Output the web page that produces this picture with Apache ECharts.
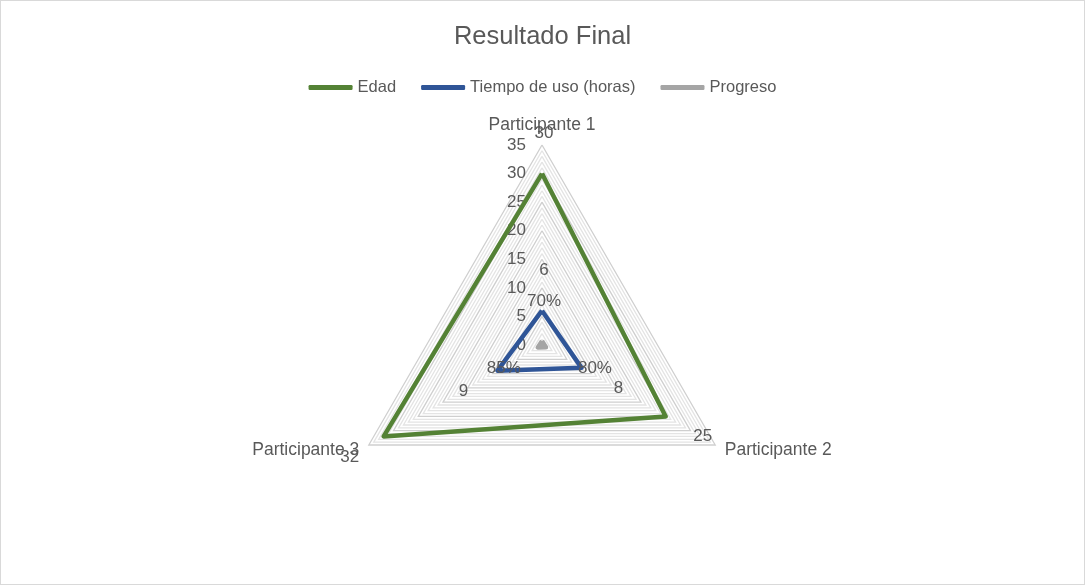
<!DOCTYPE html>
<html>
<head>
<meta charset="utf-8">
<script src="https://cdn.jsdelivr.net/npm/echarts@6/dist/echarts.min.js"></script>
<style>
  html, body { margin: 0; padding: 0; background: #fff; }
  #chart { width: 1085px; height: 585px; box-sizing: border-box; border: 1px solid #d9d9d9; }
</style>
</head>
<body>
<div id="chart"></div>
<script>
// ---- data ----
const participants = ['Participante 1', 'Participante 2', 'Participante 3'];
const seriesNames = ['Edad', 'Tiempo de uso (horas)', 'Progreso'];
const edad = [30, 25, 32];
const tiempo = [6, 8, 9];
const progreso = [0.70, 0.80, 0.85];
const axisMin = 0, axisMax = 35, axisStep = 5;

// ---- styles ----
const FONT = 'Liberation Sans';
const TXT = '#595959';
const colors = ['#548235', '#2F5597', '#A5A5A5'];
const CENTER = [541, 344], RADIUS = 200;
// label offsets per axis (Excel-like placement)
const labelOffsets = [
  [[2, -40], [37, 20], [-34, 21]],
  [[2, -40], [37, 20], [-34, 21]],
  [[2, -40], [49, 21], [-34, 21]]
];

// ECharts radar runs counter-clockwise; reorder so participants run clockwise
const order = [0, 2, 1];
const reorder = arr => order.map(i => arr[i]);

const allValues = [edad, tiempo, progreso];
const fmt = [v => String(v), v => String(v), v => Math.round(v * 100) + '%'];

const chart = echarts.init(document.getElementById('chart'), null, { renderer: 'canvas' });

const radarSeries = allValues.map((vals, s) => ({
  type: 'radar',
  name: seriesNames[s],
  radarIndex: 0,
  symbol: 'none',
  silent: true,
  lineStyle: { color: colors[s], width: 4.5, join: 'round' },
  itemStyle: { color: colors[s] },
  data: [{ name: seriesNames[s], value: reorder(vals) }],
  z: 3 + (2 - s)
}));

const labelSeries = allValues.map((vals, s) => ({
  type: 'scatter',
  name: 'lbl' + s,
  coordinateSystem: 'polar',
  polarIndex: 0,
  symbolSize: 0,
  silent: true,
  z: 10,
  itemStyle: { opacity: 1 },
  label: {
    show: true,
    position: 'inside',
    color: TXT,
    fontFamily: FONT,
    fontSize: 17,
    formatter: p => fmt[s](p.value[0])
  },
  data: vals.map((v, i) => ({
    value: [v, i * 120],
    label: { offset: labelOffsets[s][i] }
  }))
}));

const minorColor = '#e4e4e4', majorColor = '#cfcfcf';
const splitColors = [majorColor, minorColor, minorColor, minorColor, minorColor];

chart.setOption({
  animation: false,
  color: colors,
  textStyle: { fontFamily: FONT },
  title: {
    text: 'Resultado Final',
    left: 'center',
    top: 18,
    textStyle: { color: TXT, fontSize: 25.5, fontWeight: 'normal', fontFamily: FONT }
  },
  legend: {
    top: 73,
    left: 'center',
    itemWidth: 44,
    itemHeight: 5,
    itemGap: 25,
    icon: 'roundRect',
    data: seriesNames,
    textStyle: { color: TXT, fontSize: 16.5, fontFamily: FONT }
  },
  radar: {
    center: CENTER,
    radius: RADIUS,
    shape: 'polygon',
    splitNumber: (axisMax - axisMin),
    nameGap: 11,
    axisName: { color: TXT, fontSize: 17.5, fontFamily: FONT },
    indicator: reorder(participants).map(n => ({ name: n, min: axisMin, max: axisMax })),
    axisLine: { show: false },
    splitArea: { show: false },
    splitLine: { lineStyle: { color: splitColors, width: 1.3 } },
    axisLabel: { show: false }
  },
  polar: { center: CENTER, radius: RADIUS },
  angleAxis: {
    type: 'value', min: 0, max: 360, startAngle: 90, clockwise: true, show: false
  },
  radiusAxis: {
    type: 'value', min: axisMin, max: axisMax, interval: axisStep,
    axisLine: { show: false }, axisTick: { show: false }, splitLine: { show: false },
    axisLabel: { color: TXT, fontSize: 17, fontFamily: FONT, margin: 16 }
  },
  series: radarSeries.concat(labelSeries)
});
</script>
</body>
</html>
